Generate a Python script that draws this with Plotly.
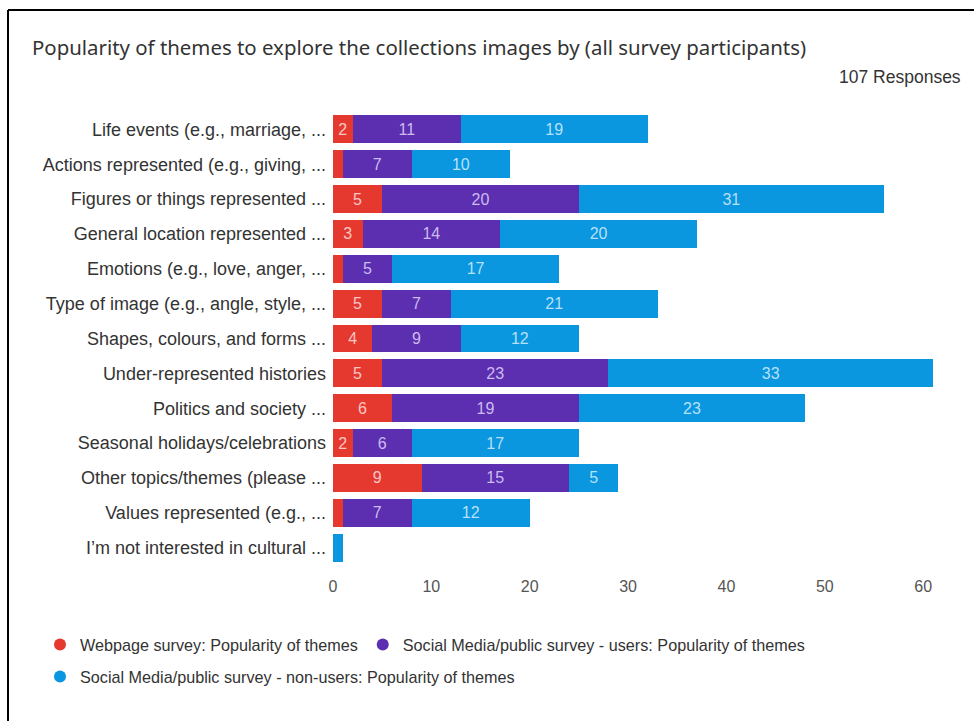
import plotly.graph_objects as go

categories = [
    "Life events (e.g., marriage, ...",
    "Actions represented (e.g., giving, ...",
    "Figures or things represented ...",
    "General location represented ...",
    "Emotions (e.g., love, anger, ...",
    "Type of image (e.g., angle, style, ...",
    "Shapes, colours, and forms ...",
    "Under-represented histories",
    "Politics and society ...",
    "Seasonal holidays/celebrations",
    "Other topics/themes (please ...",
    "Values represented (e.g., ...",
    "I’m not interested in cultural ...",
]
webpage = [2, 1, 5, 3, 1, 5, 4, 5, 6, 2, 9, 1, 0]
sm_users = [11, 7, 20, 14, 5, 7, 9, 23, 19, 6, 15, 7, 0]
sm_nonusers = [19, 10, 31, 20, 17, 21, 12, 33, 23, 17, 5, 12, 1]

series_names = [
    "Webpage survey: Popularity of themes",
    "Social Media/public survey - users: Popularity of themes",
    "Social Media/public survey - non-users: Popularity of themes",
]
colors = ["#E5392F", "#5B2FB0", "#0B96E0"]
text_colors = ["rgba(255,225,225,0.85)", "rgba(225,215,255,0.85)", "rgba(215,240,255,0.85)"]

fig = go.Figure()
for name, vals, c, tc in zip(series_names, [webpage, sm_users, sm_nonusers], colors, text_colors):
    fig.add_trace(go.Bar(
        y=categories, x=vals, orientation="h", name=name,
        marker=dict(color=c, line=dict(width=0)),
        text=[str(v) if v >= 2 else "" for v in vals],
        textposition="inside", insidetextanchor="middle", textangle=0,
        insidetextfont=dict(family="Liberation Sans, Arial", size=16, color=tc),
        showlegend=False, hoverinfo="x+y",
    ))

legend_ids = ["legend", "legend", "legend2"]
for name, c, lg in zip(series_names, colors, legend_ids):
    fig.add_trace(go.Scatter(
        x=[None], y=[None], mode="markers", name=name,
        marker=dict(symbol="circle", size=12, color=c),
        legend=lg, showlegend=True,
    ))

L, R, T, B = 333, 41, 112, 156
W, H = 974, 721
pw, ph = W - L - R, H - T - B

def px(x):
    return (x - L) / pw

def py(y):
    return (H - B - y) / ph

fig.update_layout(
    width=W, height=H,
    margin=dict(l=L, r=R, t=T, b=B, pad=0),
    paper_bgcolor="white", plot_bgcolor="white",
    barmode="stack", bargap=0.2,
    font=dict(family="Liberation Sans, Arial", color="#333333"),
    title=dict(
        text="Popularity of themes to explore the collections images by (all survey participants)",
        x=32 / W, xanchor="left", y=1 - 48 / H, yanchor="middle",
        font=dict(family="Noto Sans", size=20.4, color="#333333"),
    ),
    xaxis=dict(
        range=[0, 61], tickvals=[0, 10, 20, 30, 40, 50, 60],
        showgrid=False, zeroline=False, showline=False,
        tickfont=dict(size=16, color="#555555"), ticks="",
        ticklabelstandoff=10,
    ),
    yaxis=dict(
        autorange="reversed", showgrid=False, zeroline=False, showline=False,
        tickfont=dict(size=18, color="#333333"), ticks="",
        ticklabelstandoff=6,
    ),
    uniformtext=dict(minsize=16, mode="show"),
    legend=dict(
        orientation="h", x=px(40), xanchor="left", y=py(645), yanchor="middle",
        font=dict(size=16.2, color="#333333"), bgcolor="rgba(0,0,0,0)",
        itemsizing="constant", traceorder="normal",
    ),
    legend2=dict(
        orientation="h", x=px(40), xanchor="left", y=py(677), yanchor="middle",
        font=dict(size=16.2, color="#333333"), bgcolor="rgba(0,0,0,0)",
        itemsizing="constant", traceorder="normal",
    ),
    annotations=[
        dict(text="107 Responses", xref="paper", yref="paper",
             x=px(963), y=py(77), xanchor="right", yanchor="middle",
             showarrow=False, font=dict(size=17.5, color="#333333")),
    ],
    shapes=[
        dict(type="line", xref="paper", yref="paper", x0=px(8), x1=px(980),
             y0=py(10), y1=py(10), line=dict(color="black", width=2)),
        dict(type="line", xref="paper", yref="paper", x0=px(8), x1=px(8),
             y0=py(10), y1=py(725), line=dict(color="black", width=2)),
    ],
)

fig.write_html("out.html")
